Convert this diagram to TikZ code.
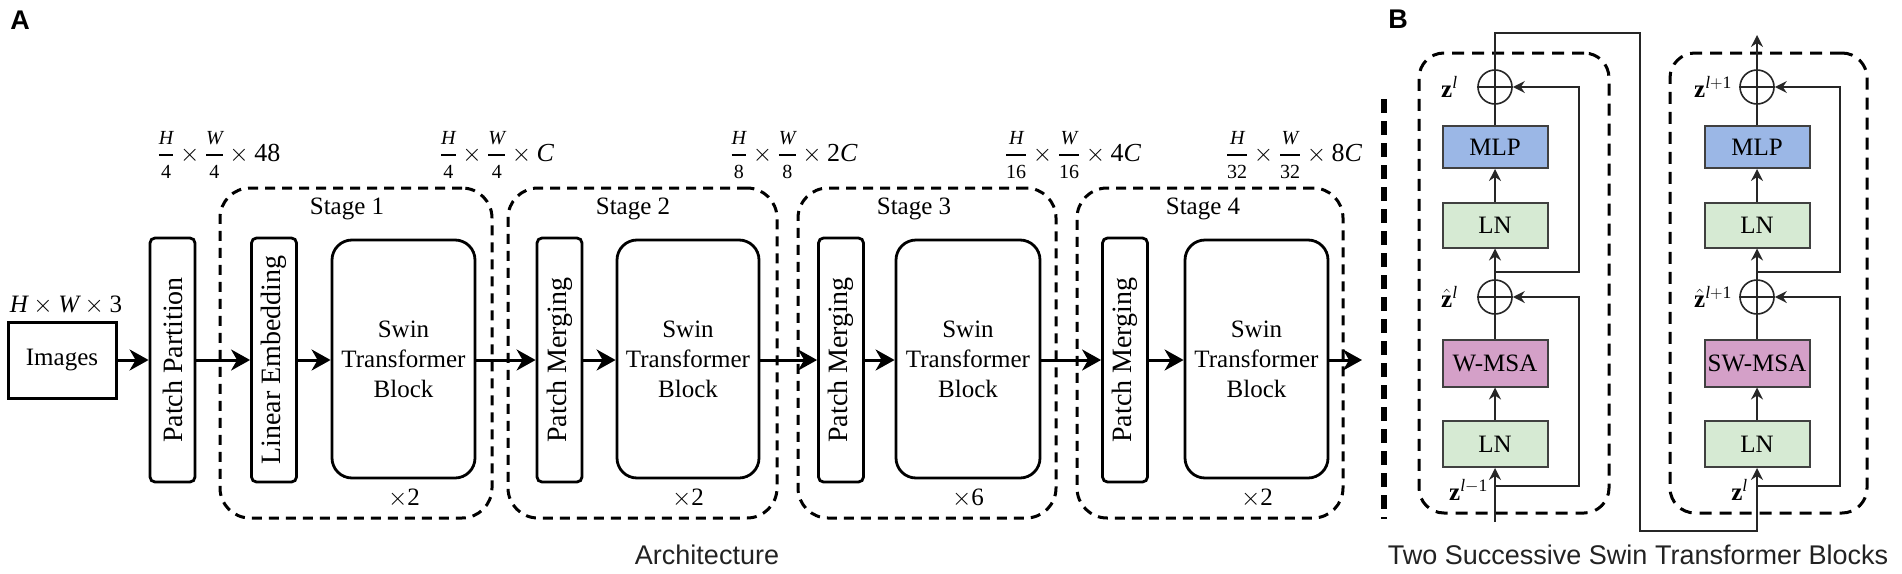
\documentclass[tikz,border=0pt]{standalone}
\usepackage{amsmath}
\usepackage{fontspec}
\setmainfont{Liberation Serif}
\setsansfont{Liberation Sans}
\usetikzlibrary{arrows.meta,calc}
\definecolor{mlpblue}{RGB}{155,183,230}
\definecolor{lngreen}{RGB}{214,234,211}
\definecolor{msapink}{RGB}{212,160,200}
\definecolor{capgray}{RGB}{34,34,34}
\newcommand{\sm}[1]{\mbox{\fontsize{20}{20}\selectfont #1}}
\newcommand{\dfr}[2]{\genfrac{}{}{2.4pt}{0}{\sm{\itshape #1}}{\sm{#2}}}
\tikzset{
  tx/.style={font=\fontsize{25}{30}\selectfont, inner sep=0pt},
  dimlab/.style={font=\fontsize{26}{30}\selectfont, inner sep=0pt},
  vtext/.style={rotate=90, font=\fontsize{28}{30}\selectfont, inner sep=0pt},
  thinbox/.style={draw, line width=2.8pt, rounded corners=5pt, minimum width=45pt, minimum height=244pt, inner sep=0pt},
  swinbox/.style={draw, line width=2.8pt, rounded corners=20pt, minimum height=238pt, inner sep=0pt, align=center, font=\fontsize{25}{30}\selectfont},
  imgbox/.style={draw, line width=3pt, minimum width=108pt, minimum height=76pt, inner sep=0pt, font=\fontsize{25}{30}\selectfont},
  stagebox/.style={draw, line width=3pt, dash pattern=on 10pt off 7pt, rounded corners=30pt, minimum height=330pt, inner sep=0pt},
  arr/.style={line width=3pt, -{Stealth[length=19pt,width=21pt,inset=6pt]}},
  bline/.style={line width=1.6pt, draw=black!85},
  barr/.style={line width=1.6pt, draw=black!85, -{Stealth[length=12pt,width=12pt,inset=4pt]}},
  bbox/.style={draw=black!75, line width=2pt, minimum width=105pt, minimum height=45pt, inner sep=2pt, font=\fontsize{25}{30}\selectfont},
  adder/.style={circle, draw=black!85, line width=1.6pt, minimum size=34pt, inner sep=0pt},
  blkbox/.style={draw, line width=3pt, dash pattern=on 12pt off 8pt, rounded corners=25pt, minimum height=460pt, inner sep=0pt},
  zlab/.style={font=\fontsize{25}{30}\selectfont, inner sep=0pt},
  captext/.style={font=\fontsize{27}{30}\selectfont\sffamily, text=capgray, inner sep=0pt},
  panel/.style={font=\fontsize{27}{30}\selectfont\sffamily\bfseries, inner sep=0pt}
}
\begin{document}
\begin{tikzpicture}[x=1pt,y=-1pt]
\useasboundingbox (0,0) rectangle (1902,573);
% panel letters
\node[panel] (pA) at (20,20) {A};
\node[panel] (pB) at (1398,19) {B};
% stage boxes
\node[stagebox, minimum width=272pt] (st1) at (356,353) {};
\node[stagebox, minimum width=269pt] (st2) at (642.5,353) {};
\node[stagebox, minimum width=258pt] (st3) at (927,353) {};
\node[stagebox, minimum width=266pt] (st4) at (1210,353) {};
\node[tx] (st1l) at (347,209) {Stage 1};
\node[tx] (st2l) at (633,209) {Stage 2};
\node[tx] (st3l) at (914,209) {Stage 3};
\node[tx] (st4l) at (1203,209) {Stage 4};
% blocks
\node[imgbox] (img) at (62,360) {Images};
\node[tx] (hw3) at (66,305) {$\mathit{H}\times\mathit{W}\times\mathrm{3}$};
\node[thinbox] (pp) at (172.5,360) {};
\node[vtext] (ppt) at (pp.center) {Patch Partition};
\node[thinbox] (le) at (274,360) {};
\node[vtext] (let) at (le.center) {Linear Embedding};
\node[swinbox, minimum width=143pt] (sw1) at (403.5,359) {Swin\\Transformer\\Block};
\node[thinbox] (pm2) at (559.5,360) {};
\node[vtext] (pm2t) at (pm2.center) {Patch Merging};
\node[swinbox, minimum width=142pt] (sw2) at (688,359) {Swin\\Transformer\\Block};
\node[thinbox] (pm3) at (841,360) {};
\node[vtext] (pm3t) at (pm3.center) {Patch Merging};
\node[swinbox, minimum width=144pt] (sw3) at (968,359) {Swin\\Transformer\\Block};
\node[thinbox] (pm4) at (1125,360) {};
\node[vtext] (pm4t) at (pm4.center) {Patch Merging};
\node[swinbox, minimum width=143pt] (sw4) at (1256.5,359) {Swin\\Transformer\\Block};
\coordinate (out) at (1362,360);
% repeat counts
\node[tx] (r1) at (404,498) {$\times\mathrm{2}$};
\node[tx] (r2) at (688,498) {$\times\mathrm{2}$};
\node[tx] (r3) at (968,498) {$\times\mathrm{6}$};
\node[tx] (r4) at (1257,498) {$\times\mathrm{2}$};
% dimension labels
\node[dimlab] (d0) at (219,155) {$\dfr{H}{4}\times\dfr{W}{4}\times\mathrm{48}$};
\node[dimlab] (d1) at (497,155) {$\dfr{H}{4}\times\dfr{W}{4}\times\mathit{C}$};
\node[dimlab] (d2) at (794,155) {$\dfr{H}{8}\times\dfr{W}{8}\times\mathrm{2}\mathit{C}$};
\node[dimlab] (d3) at (1073,155) {$\dfr{H}{16}\times\dfr{W}{16}\times\mathrm{4}\mathit{C}$};
\node[dimlab] (d4) at (1294,155) {$\dfr{H}{32}\times\dfr{W}{32}\times\mathrm{8}\mathit{C}$};
% arrows
\draw[arr] (img) -- (pp);
\draw[arr] (pp) -- (le);
\draw[arr] (le) -- (le -| sw1.west);
\draw[arr] (sw1.east |- pm2) -- (pm2);
\draw[arr] (pm2) -- (pm2 -| sw2.west);
\draw[arr] (sw2.east |- pm3) -- (pm3);
\draw[arr] (pm3) -- (pm3 -| sw3.west);
\draw[arr] (sw3.east |- pm4) -- (pm4);
\draw[arr] (pm4) -- (pm4 -| sw4.west);
\draw[arr] (sw4.east |- out) -- (out);
\node[captext] (archl) at (707,555) {Architecture};
% separator
\coordinate (sepT) at (1384,99);
\coordinate (sepB) at (1384,519);
\draw[line width=5.5pt, dash pattern=on 14pt off 8pt] (sepT) -- (sepB);
% panel B dashed blocks
\node[blkbox, minimum width=190pt] (blkL) at (1514,283) {};
\node[blkbox, minimum width=197pt] (blkR) at (1768.5,283) {};
% left block
\node[bbox, fill=mlpblue, minimum height=42pt] (mlpa) at (1495,147) {MLP};
\node[bbox, fill=lngreen] (ln2a) at (1495,225) {LN};
\node[bbox, fill=msapink, minimum height=47pt] (msaa) at (1495,363) {W-MSA};
\node[bbox, fill=lngreen, minimum height=46pt] (ln1a) at (1495,444) {LN};
\node[adder] (c2a) at (1495,87) {};
\node[adder] (c1a) at (1495,297) {};
\draw[bline] (c2a.west) -- (c2a.east);
\draw[bline] (c1a.west) -- (c1a.east);
\coordinate (inL) at (1495,522);
\draw[barr] (inL) -- (ln1a);
\draw[barr] (ln1a) -- (msaa);
\draw[bline] (msaa) -- (c1a.south);
\draw[bline] (c1a.south) -- (c1a.north);
\draw[barr] (c1a.north) -- (ln2a);
\draw[barr] (ln2a) -- (mlpa);
\draw[bline] (mlpa) -- (c2a.south);
\draw[bline] (c2a.south) -- (c2a.north);
\draw[barr] (1495,486) -- (1579,486) -- (1579,297) -- (c1a.east);
\draw[barr] (1495,272) -- (1579,272) -- (1579,87) -- (c2a.east);
% right block
\node[bbox, fill=mlpblue, minimum height=42pt] (mlpb) at (1757,147) {MLP};
\node[bbox, fill=lngreen] (ln2b) at (1757,225) {LN};
\node[bbox, fill=msapink, minimum height=47pt] (msab) at (1757,363) {SW-MSA};
\node[bbox, fill=lngreen, minimum height=46pt] (ln1b) at (1757,444) {LN};
\node[adder] (c2b) at (1757,87) {};
\node[adder] (c1b) at (1757,297) {};
\draw[bline] (c2b.west) -- (c2b.east);
\draw[bline] (c1b.west) -- (c1b.east);
\draw[barr] (c2a.north) -- (1495,33) -- (1640,33) -- (1640,531) -- (1757,531) -- (ln1b);
\draw[barr] (ln1b) -- (msab);
\draw[bline] (msab) -- (c1b.south);
\draw[bline] (c1b.south) -- (c1b.north);
\draw[barr] (c1b.north) -- (ln2b);
\draw[barr] (ln2b) -- (mlpb);
\draw[bline] (mlpb) -- (c2b.south);
\draw[bline] (c2b.south) -- (c2b.north);
\coordinate (outR) at (1757,35);
\draw[barr] (c2b.north) -- (outR);
\draw[barr] (1757,486) -- (1840,486) -- (1840,297) -- (c1b.east);
\draw[barr] (1757,272) -- (1840,272) -- (1840,87) -- (c2b.east);
% labels
\node[zlab, anchor=west] (zl) at (1441,87) {$\mathbf{z}^{\mathit{l}}$};
\node[zlab, anchor=west] (zhl) at (1441,297) {$\hat{\mathbf{z}}^{\mathit{l}}$};
\node[zlab, anchor=east] (zlm) at (1488,490) {$\mathbf{z}^{\mathit{l}-\mathrm{1}}$};
\node[zlab, anchor=west] (zlp) at (1694,87) {$\mathbf{z}^{\mathit{l}+\mathrm{1}}$};
\node[zlab, anchor=west] (zhlp) at (1694,297) {$\hat{\mathbf{z}}^{\mathit{l}+\mathrm{1}}$};
\node[zlab, anchor=east] (zlr) at (1748,490) {$\mathbf{z}^{\mathit{l}}$};
\node[captext] (blkcap) at (1638,555) {Two Successive Swin Transformer Blocks};
\end{tikzpicture}
\end{document}
